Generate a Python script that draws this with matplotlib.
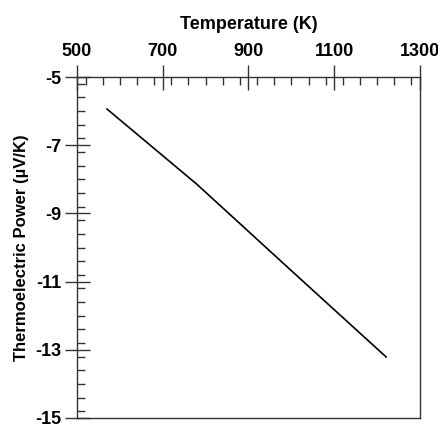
import matplotlib
matplotlib.use("Agg")
import matplotlib.pyplot as plt
from matplotlib.ticker import MultipleLocator

temperature = [570, 780, 1000, 1221]
thermopower = [-5.94, -8.15, -10.68, -13.21]

xticks = [500, 700, 900, 1100, 1300]
yticks = [-5, -7, -9, -11, -13, -15]

plt.rcParams['font.family'] = ['Liberation Sans', 'DejaVu Sans']
plt.rcParams['axes.unicode_minus'] = False

fig = plt.figure(figsize=(4.39, 4.30), dpi=100)
ax = fig.add_axes([77/439, 1-418/430, (420-77)/439, (418-77)/430])

ax.plot(temperature, thermopower, color='black', lw=1.2)

ax.set_xlim(500, 1300)
ax.set_ylim(-15, -5)
ax.xaxis.tick_top()
ax.xaxis.set_label_position('top')
ax.set_xticks(xticks)
ax.set_yticks(yticks)
ax.xaxis.set_minor_locator(MultipleLocator(40))
ax.yaxis.set_minor_locator(MultipleLocator(0.4))

spine_color = '#333333'
for s in ax.spines.values():
    s.set_color(spine_color)
    s.set_linewidth(1.0)

ax.tick_params(which='major', direction='inout', length=18, width=1.0, color=spine_color,
               labelsize=13)
ax.tick_params(axis='x', which='major', pad=3)
ax.tick_params(axis='y', which='major', pad=2)
ax.tick_params(which='minor', direction='in', length=6, width=1.0, color=spine_color)
ax.tick_params(axis='x', which='both', top=True, bottom=False)
ax.tick_params(axis='y', which='both', left=True, right=False)

for lab in ax.get_xticklabels() + ax.get_yticklabels():
    lab.set_fontweight('bold')

ax.set_xlabel('Temperature (K)', fontsize=13, fontweight='bold', labelpad=10)
ax.set_ylabel('Thermoelectric Power (µV/K)', fontsize=12, fontweight='bold', labelpad=5)

fig.savefig('out.png', dpi=100)
